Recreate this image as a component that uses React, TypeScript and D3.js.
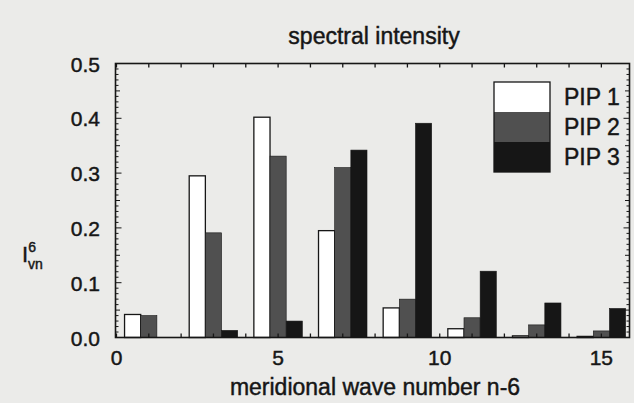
import React from "react";
import * as d3 from "d3";

const waveNumbers = [1, 3, 5, 7, 9, 11, 13, 15];
const seriesNames = ["PIP 1", "PIP 2", "PIP 3"];
const pip1 = [0.042, 0.295, 0.402, 0.195, 0.054, 0.016, 0.003, 0.002];
const pip2 = [0.04, 0.191, 0.331, 0.31, 0.07, 0.036, 0.023, 0.012];
const pip3 = [0.0, 0.013, 0.03, 0.342, 0.391, 0.121, 0.063, 0.053];
const xTickLabels = [0, 5, 10, 15];
const yTickLabels = [0, 0.1, 0.2, 0.3, 0.4, 0.5];

const W = 634;
const H = 403;
const FONT = "'Liberation Sans', Arial, Helvetica, sans-serif";
const INK = "#161616";
const fills = ["#ffffff", "#505050", "#161616"];
const textStroke = { stroke: INK, strokeWidth: 0.45 };

export default function App() {
  const x = d3.scaleLinear().domain([-0.03, 15.87]).range([115.5, 629.5]);
  const y = d3.scaleLinear().domain([0, 0.5]).range([337.5, 63.5]);
  const series = [pip1, pip2, pip3];
  const barW = 0.5;
  const [x0, x1] = x.range();
  const [yb, yt] = y.range();

  const minorY = d3.range(0, 0.5001, 0.01);
  const intTicks = d3.range(0, 16);

  return (
    <svg
      width={W}
      height={H}
      style={{ position: "absolute", left: 0, top: 0, background: "#ebebe9" }}
      fontFamily={FONT}
    >
      <rect x={0} y={0} width={W} height={H} fill="#ebebe9" />
      {/* title */}
      <text x={374} y={44} fontSize={23} textAnchor="middle" fill={INK} {...textStroke}>
        spectral intensity
      </text>

      {/* bars */}
      {series.map((vals, si) =>
        vals.map((v, i) => {
          const n = waveNumbers[i];
          const left = n + (si - 1.5) * barW;
          const bx = x(left);
          const bw = x(left + barW) - bx;
          const by = y(v);
          const bh = yb - by;
          if (bh <= 0) return null;
          return (
            <rect
              key={`${si}-${i}`}
              x={bx}
              y={by}
              width={bw}
              height={bh}
              fill={fills[si]}
              stroke={INK}
              strokeWidth={si === 0 ? 1.3 : 0.6}
            />
          );
        })
      )}

      {/* frame */}
      <rect x={x0} y={yt} width={x1 - x0} height={yb - yt} fill="none" stroke={INK} strokeWidth={1.6} />

      {/* x ticks */}
      {intTicks.map((t) => (
        <g key={`xt${t}`}>
          <line x1={x(t)} x2={x(t)} y1={yb} y2={yb - 4} stroke={INK} strokeWidth={1.3} />
          <line x1={x(t)} x2={x(t)} y1={yt} y2={yt + 4} stroke={INK} strokeWidth={1.3} />
        </g>
      ))}
      {/* y ticks */}
      {minorY.map((t, i) => {
        const len = i % 10 === 0 ? 6 : i % 5 === 0 ? 4.5 : 3;
        return (
          <g key={`yt${i}`}>
            <line x1={x0} x2={x0 + len} y1={y(t)} y2={y(t)} stroke={INK} strokeWidth={1} />
            <line x1={x1} x2={x1 - len} y1={y(t)} y2={y(t)} stroke={INK} strokeWidth={1} />
          </g>
        );
      })}

      {/* tick labels */}
      {xTickLabels.map((t) => (
        <text key={`xl${t}`} x={x(t)} y={365} fontSize={21} textAnchor="middle" fill={INK} {...textStroke}>
          {t}
        </text>
      ))}
      {yTickLabels.map((t) => (
        <text key={`yl${t}`} x={100} y={y(t) + 8} fontSize={21} textAnchor="end" fill={INK} {...textStroke}>
          {d3.format(".1f")(t)}
        </text>
      ))}

      {/* axis titles */}
      <text x={375} y={395} fontSize={23} textAnchor="middle" fill={INK} {...textStroke}>
        meridional wave number n-6
      </text>
      <text x={22} y={262} fontSize={22} fill={INK} {...textStroke}>
        I
        <tspan fontSize={14} dy={-10}>6</tspan>
        <tspan fontSize={14} dx={-8} dy={17}>vn</tspan>
      </text>

      {/* legend */}
      {seriesNames.map((name, i) => {
        const ly = 82 + i * 30;
        return (
          <g key={name}>
            <rect x={494} y={ly} width={56} height={30} fill={fills[i]} stroke="none" />
            <text x={564} y={ly + 23} fontSize={23} fill={INK} {...textStroke}>
              {name}
            </text>
          </g>
        );
      })}
      <rect x={494} y={82} width={56} height={90} fill="none" stroke={INK} strokeWidth={1.3} />
    </svg>
  );
}
